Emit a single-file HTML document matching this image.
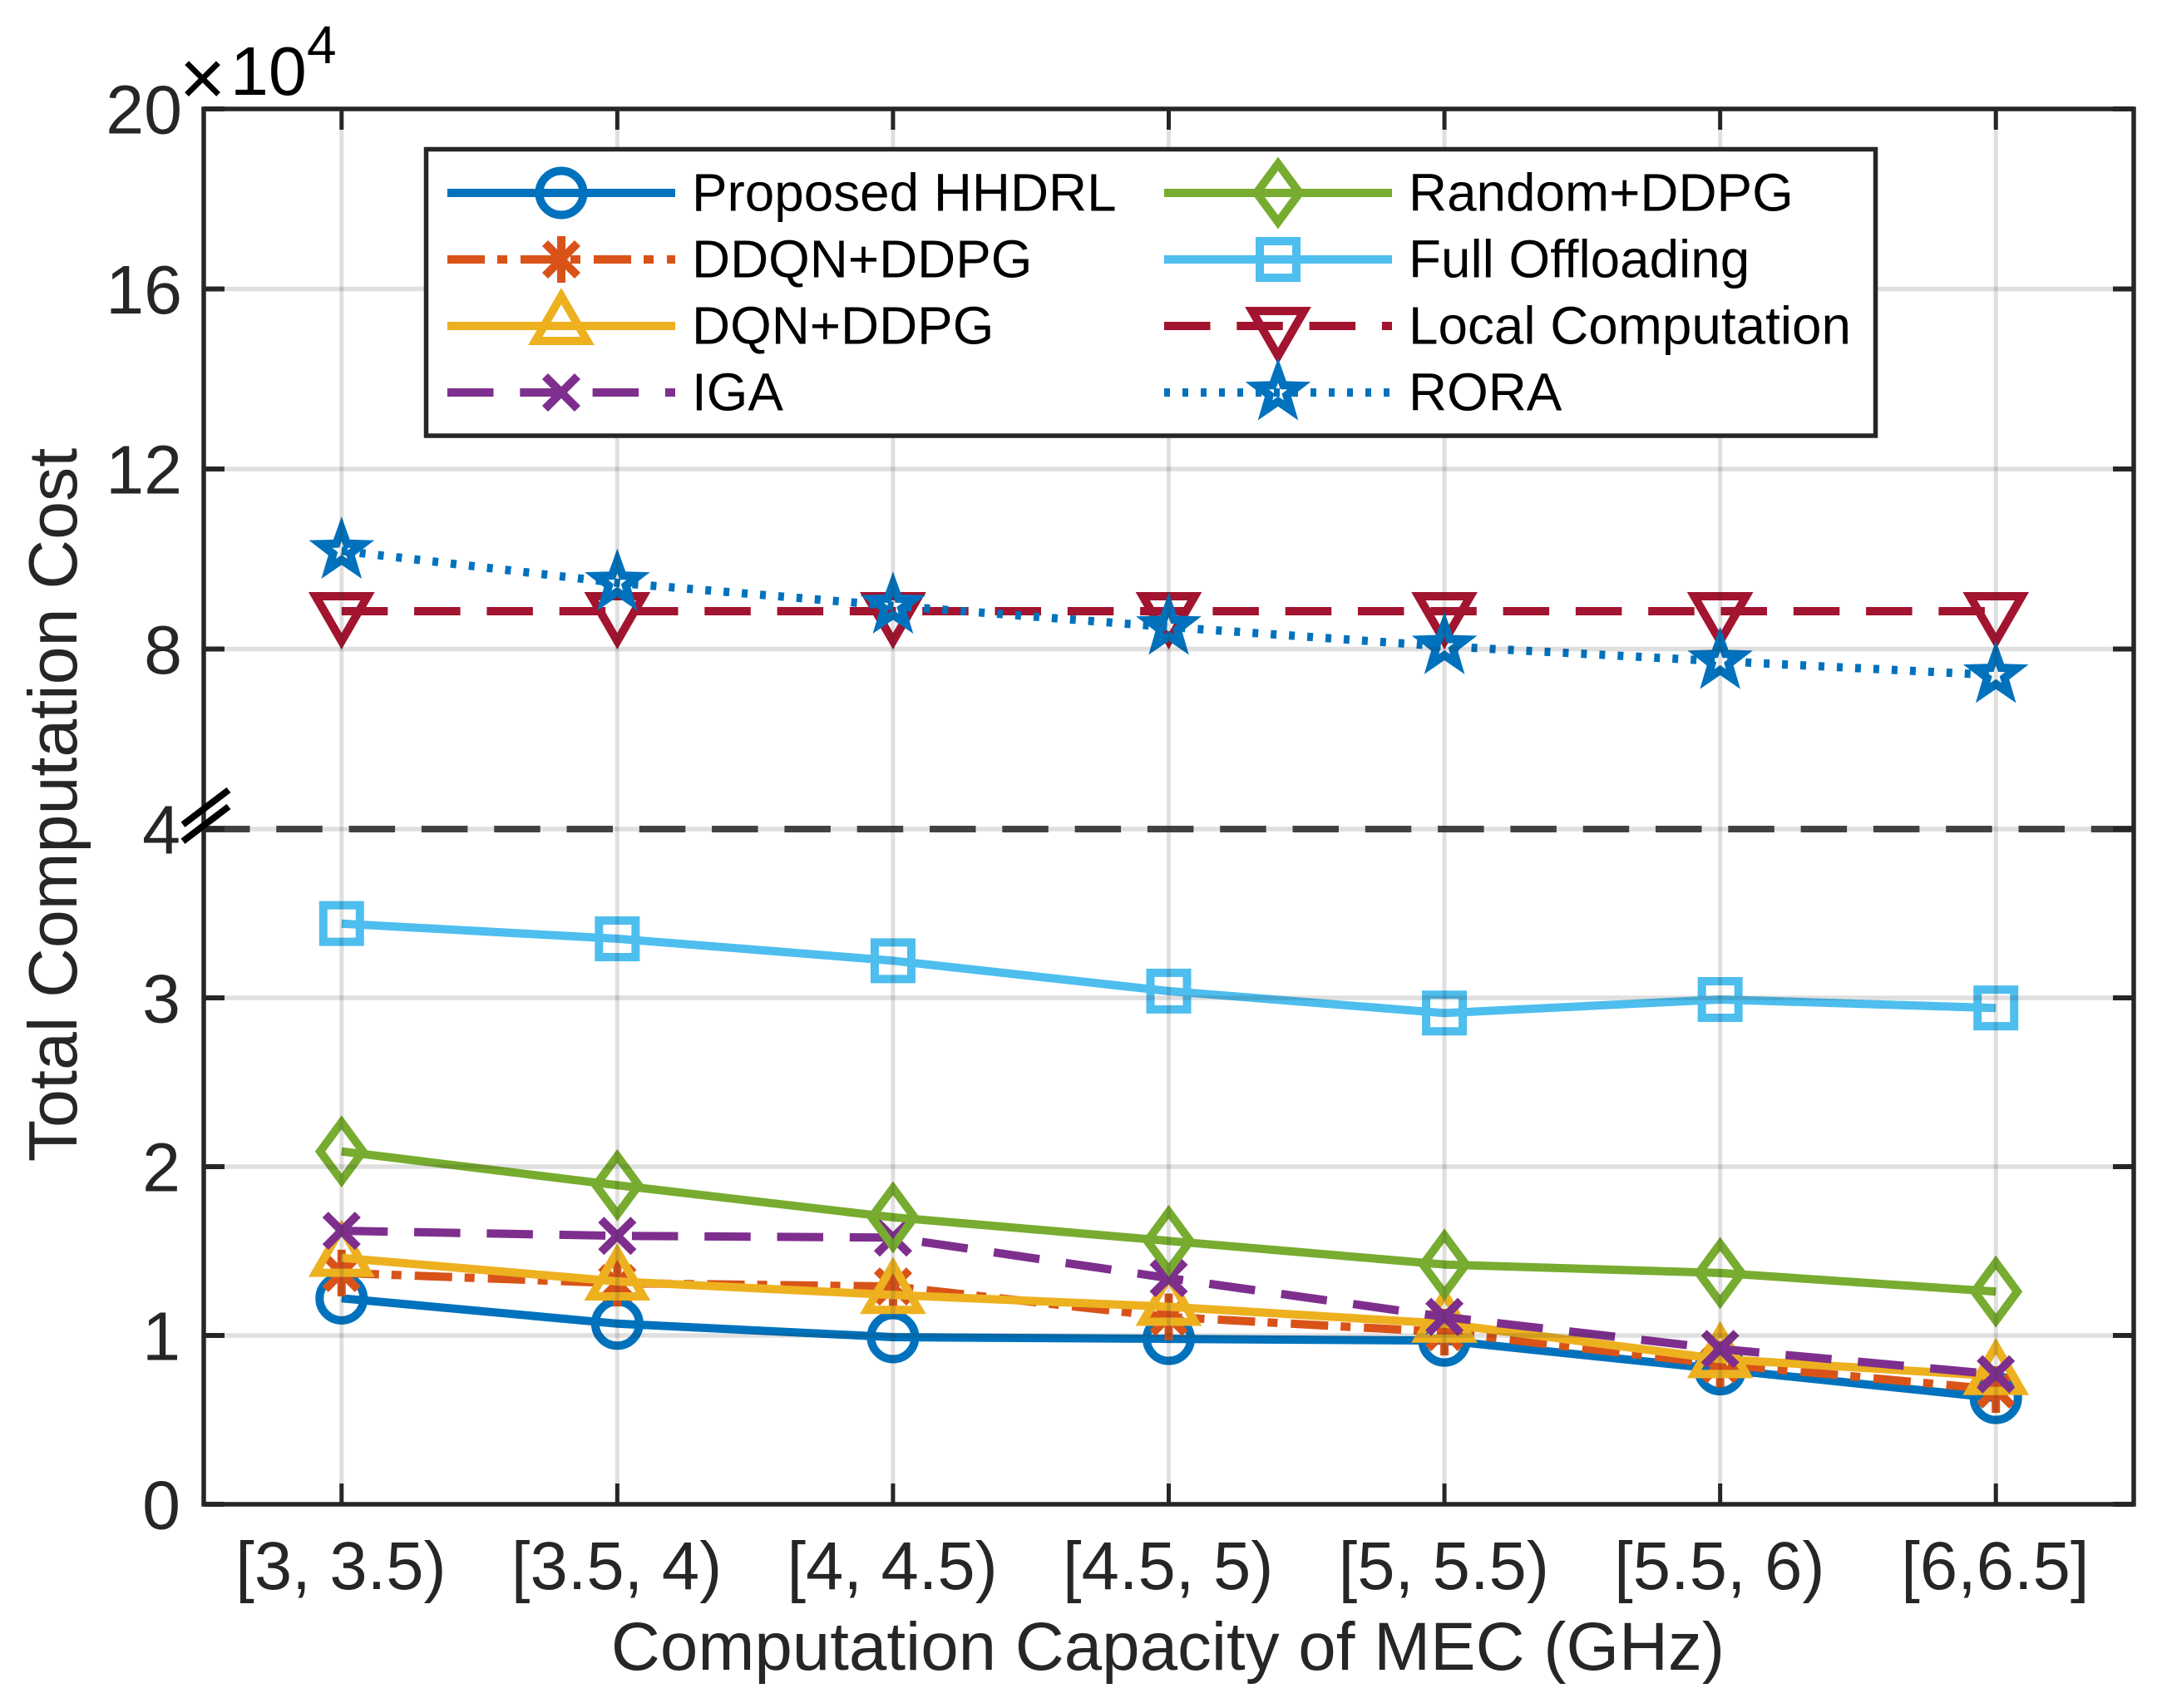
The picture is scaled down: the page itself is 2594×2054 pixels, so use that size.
<!DOCTYPE html>
<html lang="en">
<head>
<meta charset="utf-8">
<title>Total Computation Cost vs Computation Capacity of MEC</title>
<style>
html,body{margin:0;padding:0;background:#fff;width:2594px;height:2054px;overflow:hidden}
svg{display:block}
text{font-family:"Liberation Sans",Arial,sans-serif}
.legend-text{font-size:63.8px;fill:#000}
.x-title{font-size:81.7px;fill:#262626}
.y-title{font-size:82.6px;fill:#262626}
</style>
</head>
<body>
<svg id="chart" xmlns="http://www.w3.org/2000/svg" width="2594" height="2054" viewBox="0 0 2594 2054">
  <rect x="0" y="0" width="2594" height="2054" fill="#fff"/>
  <g id="plot-series"></g>
  <g id="plot-grid"></g>
  <g id="plot-axes"></g>
  <text class="x-title" x="1404.5" y="2008" text-anchor="middle">Computation Capacity of MEC (GHz)</text>
  <text class="y-title" transform="translate(92,968) rotate(-90)" text-anchor="middle">Total Computation Cost</text>
  <g fill="#000">
    <text x="243.5" y="126.5" font-size="96" text-anchor="middle">×</text>
    <text x="277" y="114" font-size="82.5">10</text>
    <text x="369" y="76" font-size="64">4</text>
  </g>
  <g id="legend">
    <rect x="512.5" y="179.5" width="1743" height="344.5" fill="#fff" stroke="#262626" stroke-width="5.5"/>
    <g id="legend-keys"></g>
    <text class="legend-text" x="832" y="253.5">Proposed HHDRL</text>
    <text class="legend-text" x="832" y="333.5">DDQN+DDPG</text>
    <text class="legend-text" x="832" y="413.5">DQN+DDPG</text>
    <text class="legend-text" x="832" y="493.5">IGA</text>
    <text class="legend-text" x="1694" y="253.5">Random+DDPG</text>
    <text class="legend-text" x="1694" y="333.5">Full Offloading</text>
    <text class="legend-text" x="1694" y="413.5">Local Computation</text>
    <text class="legend-text" x="1694" y="493.5">RORA</text>
  </g>
</svg>
<script>
// ---- chart data (cost in units of 10^4) ----
const categories = ['[3, 3.5)', '[3.5, 4)', '[4, 4.5)', '[4.5, 5)', '[5, 5.5)', '[5.5, 6)', '[6,6.5]'];
const proposedHHDRL = [1.22, 1.07, 0.99, 0.98, 0.97, 0.80, 0.63];
const ddqnDDPG = [1.37, 1.31, 1.29, 1.11, 1.02, 0.83, 0.68];
const dqnDDPG = [1.46, 1.32, 1.24, 1.17, 1.07, 0.86, 0.76];
const iga = [1.62, 1.59, 1.58, 1.34, 1.11, 0.92, 0.77];
const randomDDPG = [2.09, 1.89, 1.70, 1.56, 1.42, 1.37, 1.26];
const fullOffloading = [3.44, 3.35, 3.22, 3.04, 2.91, 2.99, 2.94];
const localComputation = [8.84, 8.84, 8.84, 8.84, 8.84, 8.84, 8.84];
const rora = [10.18, 9.47, 8.96, 8.49, 8.06, 7.73, 7.42];
const lowerTickValues = [0, 1, 2, 3, 4];
const upperTickValues = [8, 12, 16, 20];
const lowerTickLabels = ['0', '1', '2', '3', '4'];
const upperTickLabels = ['8', '12', '16', '20'];

// ---- plot frame and axis functions ----
const NS = 'http://www.w3.org/2000/svg';
const plotLeft = 245, plotRight = 2566, plotTop = 131, plotBottom = 1809, breakY = 997, breakValue = 4, maxValue = 20;
function xScale(i) {
  return plotLeft + (i + 0.5) * (plotRight - plotLeft) / categories.length;
}
function yScale(v) {
  if (v <= breakValue) return plotBottom - v * (plotBottom - breakY) / breakValue;
  return breakY - (v - breakValue) * (breakY - plotTop) / (maxValue - breakValue);
}
function make(tag, attrs, parent) {
  const el = document.createElementNS(NS, tag);
  for (const k in attrs) el.setAttribute(k, attrs[k]);
  parent.appendChild(el);
  return el;
}

// ---- marker shapes ----
const markerStroke = 10;
const lineStroke = 10;
function shapePath(kind) {
  if (kind === 'triangle') return 'M0,-36 L31.2,18 L-31.2,18 Z';
  if (kind === 'triangleDown') return 'M0,36 L31.2,-18 L-31.2,-18 Z';
  if (kind === 'diamond') return 'M0,-35 L25.8,0 L0,35 L-25.8,0 Z';
  if (kind === 'square') return 'M-22,-22 H22 V22 H-22 Z';
  if (kind === 'x') return 'M-19.5,-19.5 L19.5,19.5 M19.5,-19.5 L-19.5,19.5';
  if (kind === 'asterisk') return 'M0,-28 V28 M-19.5,-19.5 L19.5,19.5 M19.5,-19.5 L-19.5,19.5';
  if (kind === 'star') {
    let d = '';
    for (let k = 0; k < 10; k++) {
      const r = k % 2 === 0 ? 26.5 : 10.8;
      const a = -Math.PI / 2 + k * Math.PI / 5;
      d += (k === 0 ? 'M' : 'L') + (r * Math.cos(a)).toFixed(2) + ',' + (r * Math.sin(a)).toFixed(2);
    }
    return d + 'Z';
  }
  return '';
}
function drawMarker(kind, cx, cy, color, parent) {
  if (kind === 'circle') {
    return make('circle', {cx: cx, cy: cy, r: 26.5, fill: 'none', stroke: color, 'stroke-width': markerStroke}, parent);
  }
  return make('path', {
    d: shapePath(kind),
    transform: 'translate(' + cx + ',' + cy + ')',
    fill: 'none', stroke: color, 'stroke-width': markerStroke, 'stroke-miterlimit': 10
  }, parent);
}

// ---- series definitions ----
const seriesList = [
  {id: 'proposed-hhdrl', values: proposedHHDRL, color: '#0072BD', dash: '', marker: 'circle', lx: 538, ly: 232},
  {id: 'ddqn-ddpg', values: ddqnDDPG, color: '#D95319', dash: '45 15 12 16', marker: 'asterisk', lx: 538, ly: 312},
  {id: 'dqn-ddpg', values: dqnDDPG, color: '#EDB120', dash: '', marker: 'triangle', lx: 538, ly: 392},
  {id: 'iga', values: iga, color: '#7E2F8E', dash: '55.5 31.8', marker: 'x', lx: 538, ly: 472},
  {id: 'random-ddpg', values: randomDDPG, color: '#77AC30', dash: '', marker: 'diamond', lx: 1400, ly: 232},
  {id: 'full-offloading', values: fullOffloading, color: '#4DBEEE', dash: '', marker: 'square', lx: 1400, ly: 312},
  {id: 'local-computation', values: localComputation, color: '#A2142F', dash: '55.5 31.8', marker: 'triangleDown', lx: 1400, ly: 392},
  {id: 'rora', values: rora, color: '#0072BD', dash: '7 15', marker: 'star', lx: 1400, ly: 472}
];

// ---- draw series ----
const seriesLayer = document.getElementById('plot-series');
seriesList.forEach(function (s) {
  const g = make('g', {}, seriesLayer);
  
  
  const pts = s.values.map(function (v, i) { return xScale(i).toFixed(1) + ',' + yScale(v).toFixed(1); }).join(' ');
  s.values.forEach(function (v, i) {
    const m = drawMarker(s.marker, xScale(i), yScale(v), s.color, g);
    
    
  });
  const line = make('polyline', {
    points: pts, fill: 'none', stroke: s.color, 'stroke-width': lineStroke,
    'stroke-dasharray': s.dash || 'none', 'stroke-linejoin': 'round'
  }, g);
  
  
});

// ---- grid (drawn above series, translucent) ----
const gridLayer = document.getElementById('plot-grid');
categories.forEach(function (c, i) {
  const gl = make('line', {x1: xScale(i), x2: xScale(i), y1: plotTop, y2: plotBottom, stroke: '#262626', 'stroke-opacity': 0.15, 'stroke-width': 5}, gridLayer);
  
  
});
lowerTickValues.concat(upperTickValues).forEach(function (v) {
  if (v === 0 || v === maxValue) return;
  const gl = make('line', {x1: plotLeft, x2: plotRight, y1: yScale(v), y2: yScale(v), stroke: '#262626', 'stroke-opacity': 0.15, 'stroke-width': 5.5}, gridLayer);
  
  
});

// ---- axes, ticks, labels ----
const axesLayer = document.getElementById('plot-axes');
const breakLine = make('line', {x1: plotLeft, x2: plotRight, y1: breakY, y2: breakY, stroke: '#262626', 'stroke-opacity': 0.85, 'stroke-width': 8, 'stroke-dasharray': '55.5 31.8'}, axesLayer);



categories.forEach(function (c, i) {
  const x = xScale(i);
  const tTop = make('line', {x1: x, x2: x, y1: plotTop, y2: plotTop + 25, stroke: '#262626', 'stroke-width': 5}, axesLayer);
  
  
  const tBot = make('line', {x1: x, x2: x, y1: plotBottom, y2: plotBottom - 25, stroke: '#262626', 'stroke-width': 5}, axesLayer);
  
  
  const label = make('text', {x: x - 0.8, y: 1911, 'text-anchor': 'middle', 'font-size': 81.4, fill: '#262626'}, axesLayer);
  label.textContent = c;
  
  
});

function drawYTick(v, text, anchorX) {
  const y = yScale(v);
  const tL = make('line', {x1: plotLeft, x2: plotLeft + 25, y1: y, y2: y, stroke: '#262626', 'stroke-width': 6}, axesLayer);
  
  
  const tR = make('line', {x1: plotRight, x2: plotRight - 25, y1: y, y2: y, stroke: '#262626', 'stroke-width': 6}, axesLayer);
  
  
  const label = make('text', {x: anchorX, y: y + 29.5, 'text-anchor': 'end', 'font-size': 82.5, fill: '#262626'}, axesLayer);
  label.textContent = text;
  
  
}
lowerTickValues.forEach(function (v, i) { drawYTick(v, lowerTickLabels[i], 217); });
upperTickValues.forEach(function (v, i) { drawYTick(v, upperTickLabels[i], 219); });

const frame = make('rect', {x: plotLeft, y: plotTop, width: plotRight - plotLeft, height: plotBottom - plotTop, fill: 'none', stroke: '#262626', 'stroke-width': 5.5}, axesLayer);



const slashA = make('line', {x1: 220, y1: 991.7, x2: 275, y2: 950, stroke: '#000', 'stroke-width': 8}, axesLayer);


const slashB = make('line', {x1: 220, y1: 1011.7, x2: 275, y2: 970, stroke: '#000', 'stroke-width': 8}, axesLayer);



// ---- legend keys ----
const keysLayer = document.getElementById('legend-keys');
seriesList.forEach(function (s) {
  const g = make('g', {}, keysLayer);
  
  
  make('line', {
    x1: s.lx, x2: s.lx + 274, y1: s.ly, y2: s.ly, stroke: s.color, 'stroke-width': lineStroke,
    'stroke-dasharray': s.dash || 'none'
  }, g);
  drawMarker(s.marker, s.lx + 137, s.ly, s.color, g);
});
</script>
</body>
</html>
